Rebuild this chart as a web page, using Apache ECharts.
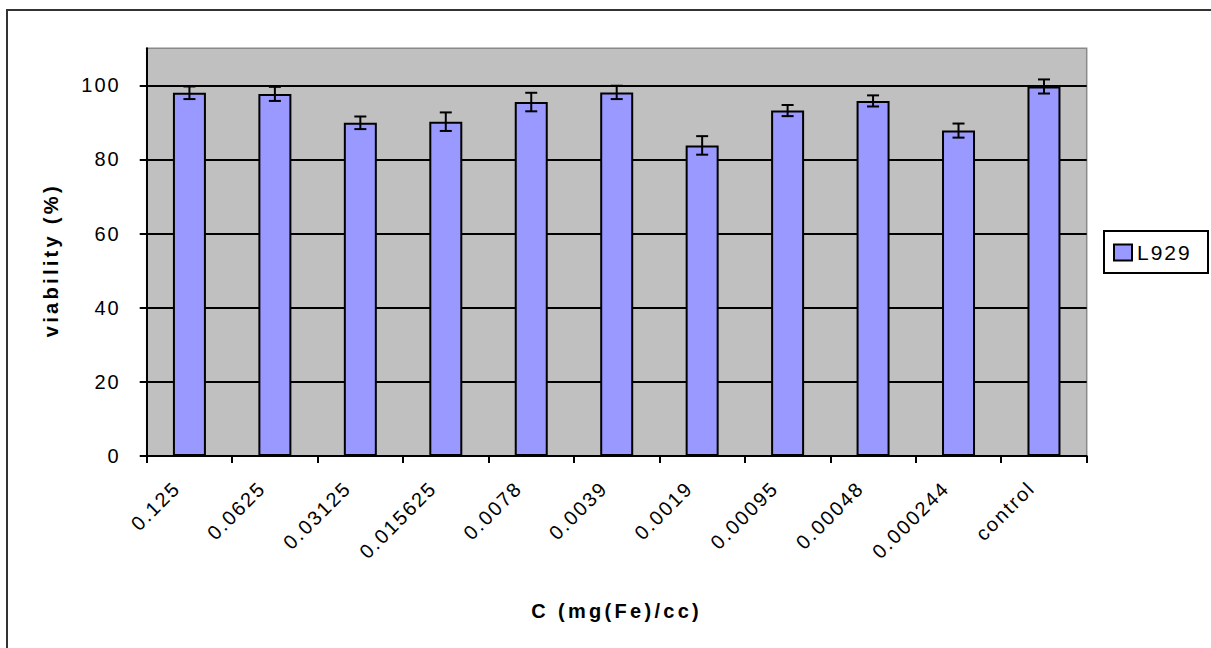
<!DOCTYPE html>
<html>
<head>
<meta charset="utf-8">
<script src="https://cdn.jsdelivr.net/npm/echarts@6/dist/echarts.min.js"></script>
<style>
  html, body { margin: 0; padding: 0; background: #fff; }
  #chart { width: 1211px; height: 648px; }
  #chart text { letter-spacing: 2px; }
  #chart text[style*="bold"] { letter-spacing: 3.3px; }
</style>
</head>
<body>
<div id="chart"></div>
<script>
// Cell viability of L929 cells against iron concentration
const categories = ['0.125', '0.0625', '0.03125', '0.015625', '0.0078', '0.0039',
                    '0.0019', '0.00095', '0.00048', '0.000244', 'control'];
const viability = [98, 97.7, 89.9, 90.2, 95.5, 98.1, 83.8, 93.2, 95.8, 87.8, 99.7];
const viabilityErr = [1.7, 1.9, 1.7, 2.5, 2.5, 1.8, 2.5, 1.5, 1.5, 1.9, 1.9];
const yTicks = [0, 20, 40, 60, 80, 100];

const FONT = 'Liberation Sans, Arial, sans-serif';

const chart = echarts.init(document.getElementById('chart'), null, { renderer: 'svg' });

chart.setOption({
  backgroundColor: '#ffffff',
  animation: false,
  graphic: [
    {
      // outer chart frame
      type: 'rect',
      shape: { x: 7, y: 10, width: 1300, height: 700 },
      style: { fill: 'none', stroke: '#333', lineWidth: 2 },
      silent: true,
      z: 0
    },
    {
      // legend frame
      type: 'rect',
      shape: { x: 1104, y: 231, width: 104, height: 42 },
      style: { fill: '#fff', stroke: '#000', lineWidth: 2 },
      silent: true,
      z: 1
    }
  ],
  grid: {
    left: 146.7, right: 124.3, top: 48.3, bottom: 192,
    show: true, backgroundColor: '#c0c0c0', borderColor: '#8a8a8a', borderWidth: 1.5
  },
  legend: {
    left: 1113, top: 242,
    orient: 'vertical',
    padding: 0,
    itemWidth: 18, itemHeight: 16,
    icon: 'rect',
    z: 5,
    textStyle: { fontFamily: FONT, fontSize: 21, color: '#000' },
    data: [{ name: 'L929', itemStyle: { color: '#9999ff', borderColor: '#000', borderWidth: 2 } }]
  },
  xAxis: {
    type: 'category',
    data: categories,
    name: 'C (mg(Fe)/cc)',
    nameLocation: 'middle',
    nameGap: 145,
    nameTextStyle: { fontFamily: FONT, fontSize: 20, fontWeight: 'bold', color: '#000' },
    axisLine: { lineStyle: { color: '#000', width: 2 } },
    axisTick: { show: true, length: 7, lineStyle: { color: '#000', width: 2 } },
    axisLabel: {
      interval: 0, rotate: 45, margin: 16, padding: [0, 18, 0, 0],
      fontFamily: FONT, fontSize: 20, color: '#000'
    },
    splitLine: { show: false }
  },
  yAxis: {
    type: 'value',
    min: 0, max: 110, interval: 20,
    name: 'viability (%)',
    nameLocation: 'middle',
    nameGap: 86,
    nameTextStyle: { fontFamily: FONT, fontSize: 20, fontWeight: 'bold', color: '#000', padding: [0, 16, 0, 0] },
    axisLine: { show: true, lineStyle: { color: '#000', width: 2 } },
    axisTick: { show: true, length: 7, lineStyle: { color: '#000', width: 2 } },
    axisLabel: {
      margin: 26, showMaxLabel: false,
      fontFamily: FONT, fontSize: 20, color: '#000',
      formatter: v => (yTicks.indexOf(v) >= 0 ? String(v) : '')
    },
    splitLine: { show: true, showMaxLine: false, lineStyle: { color: '#000', width: 2 } }
  },
  series: [
    {
      name: 'L929',
      type: 'bar',
      data: viability,
      barWidth: 33,
      itemStyle: { color: '#9999ff', borderColor: '#000', borderWidth: 2 },
      z: 2
    },
    {
      name: 'err',
      type: 'custom',
      z: 3,
      silent: true,
      data: viability.map((v, i) => [i, v - viabilityErr[i], v + viabilityErr[i]]),
      renderItem: function (params, api) {
        const i = api.value(0);
        const lo = api.coord([i, api.value(1)]);
        const hi = api.coord([i, api.value(2)]);
        const cap = 6;
        const st = { stroke: '#000', lineWidth: 2 };
        return {
          type: 'group',
          children: [
            { type: 'line', shape: { x1: lo[0], y1: lo[1], x2: hi[0], y2: hi[1] }, style: st },
            { type: 'line', shape: { x1: lo[0] - cap, y1: lo[1], x2: lo[0] + cap, y2: lo[1] }, style: st },
            { type: 'line', shape: { x1: hi[0] - cap, y1: hi[1], x2: hi[0] + cap, y2: hi[1] }, style: st }
          ]
        };
      }
    }
  ]
});
</script>
</body>
</html>
